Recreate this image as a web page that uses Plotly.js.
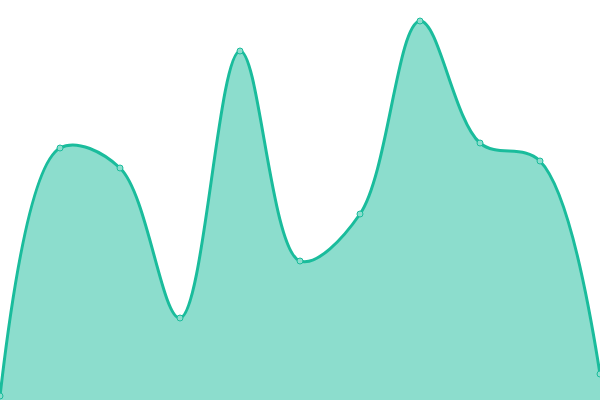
<!DOCTYPE html>
<html><head><meta charset="utf-8">
<script src="https://cdn.plot.ly/plotly-3.0.1.min.js"></script>
<style>html,body{margin:0;padding:0;background:#fff}</style>
</head><body>
<div id="chart" style="width:600px;height:400px"></div>
<script>
var xValues = [0, 1, 2, 3, 4, 5, 6, 7, 8, 9, 10];
var yValues = [4, 252, 232, 82, 349, 139, 186, 379, 257, 239, 26];

Plotly.newPlot('chart', [{
  x: xValues,
  y: yValues,
  type: 'scatter',
  mode: 'lines+markers',
  fill: 'tozeroy',
  fillcolor: 'rgba(26,188,156,0.5)',
  line: {shape: 'spline', smoothing: 1, color: '#1abc9c', width: 3},
  marker: {size: 6, color: '#8cddcd', line: {color: '#1abc9c', width: 1}},
  cliponaxis: false,
  hoverinfo: 'none'
}], {
  width: 600, height: 400,
  margin: {l: 0, r: 0, t: 0, b: 0, pad: 0},
  paper_bgcolor: '#fff', plot_bgcolor: '#fff',
  showlegend: false,
  xaxis: {range: [0, 10], visible: false, fixedrange: true},
  yaxis: {range: [0, 400], visible: false, fixedrange: true}
}, {displayModeBar: false, staticPlot: true});
</script>
</body></html>
